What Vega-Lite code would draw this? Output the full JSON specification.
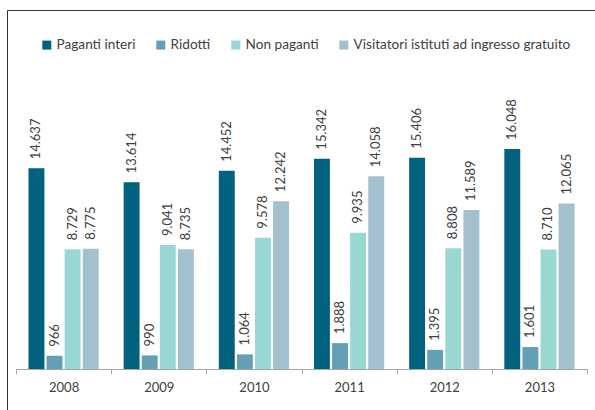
{
  "$schema": "https://vega.github.io/schema/vega-lite/v6.json",
  "width": 588,
  "height": 400,
  "padding": {"left": 7, "top": 10, "right": 0, "bottom": 0},
  "background": "white",
  "view": {"stroke": "#333333", "strokeWidth": 1, "strokeDash": [588, 988, 400, 4]},
  "config": {
    "locale": {"number": {"decimal": ",", "thousands": ".", "grouping": [3], "currency": ["€", ""]}},
    "font": "Lato"
  },
  "data": {
    "values": [
      {"anno": "2008", "serie": "Paganti interi", "valore": 14637},
      {"anno": "2008", "serie": "Ridotti", "valore": 966},
      {"anno": "2008", "serie": "Non paganti", "valore": 8729},
      {"anno": "2008", "serie": "Visitatori istituti ad ingresso gratuito", "valore": 8775},
      {"anno": "2009", "serie": "Paganti interi", "valore": 13614},
      {"anno": "2009", "serie": "Ridotti", "valore": 990},
      {"anno": "2009", "serie": "Non paganti", "valore": 9041},
      {"anno": "2009", "serie": "Visitatori istituti ad ingresso gratuito", "valore": 8735},
      {"anno": "2010", "serie": "Paganti interi", "valore": 14452},
      {"anno": "2010", "serie": "Ridotti", "valore": 1064},
      {"anno": "2010", "serie": "Non paganti", "valore": 9578},
      {"anno": "2010", "serie": "Visitatori istituti ad ingresso gratuito", "valore": 12242},
      {"anno": "2011", "serie": "Paganti interi", "valore": 15342},
      {"anno": "2011", "serie": "Ridotti", "valore": 1888},
      {"anno": "2011", "serie": "Non paganti", "valore": 9935},
      {"anno": "2011", "serie": "Visitatori istituti ad ingresso gratuito", "valore": 14058},
      {"anno": "2012", "serie": "Paganti interi", "valore": 15406},
      {"anno": "2012", "serie": "Ridotti", "valore": 1395},
      {"anno": "2012", "serie": "Non paganti", "valore": 8808},
      {"anno": "2012", "serie": "Visitatori istituti ad ingresso gratuito", "valore": 11589},
      {"anno": "2013", "serie": "Paganti interi", "valore": 16048},
      {"anno": "2013", "serie": "Ridotti", "valore": 1601},
      {"anno": "2013", "serie": "Non paganti", "valore": 8710},
      {"anno": "2013", "serie": "Visitatori istituti ad ingresso gratuito", "valore": 12065}
    ]
  },
  "encoding": {
    "x": {
      "field": "anno",
      "type": "nominal",
      "scale": {"range": [9, 580], "paddingInner": 0, "paddingOuter": 0},
      "axis": {
        "orient": "bottom",
        "offset": -41,
        "title": null,
        "grid": false,
        "domainColor": "#a6a6a6",
        "tickColor": "#a6a6a6",
        "tickSize": 5,
        "tickBand": "extent",
        "labelAngle": 0,
        "labelFontSize": 13,
        "labelColor": "#404040",
        "labelPadding": 7
      }
    },
    "xOffset": {
      "field": "serie",
      "type": "nominal",
      "sort": ["Paganti interi", "Ridotti", "Non paganti", "Visitatori istituti ad ingresso gratuito"],
      "scale": {"paddingInner": 0.12, "paddingOuter": 0.69}
    },
    "y": {
      "field": "valore",
      "type": "quantitative",
      "scale": {"domain": [0, 20000], "range": [359, 84.8], "nice": false},
      "axis": null
    }
  },
  "layer": [
    {
      "mark": {"type": "bar"},
      "encoding": {
        "color": {
          "field": "serie",
          "type": "nominal",
          "sort": ["Paganti interi", "Ridotti", "Non paganti", "Visitatori istituti ad ingresso gratuito"],
          "scale": {
            "domain": ["Paganti interi", "Ridotti", "Non paganti", "Visitatori istituti ad ingresso gratuito"],
            "range": ["#01617f", "#659fb5", "#99d7d3", "#a2c0ce"]
          },
          "legend": {
            "orient": "none",
            "legendX": 33,
            "legendY": 28,
            "direction": "horizontal",
            "title": null,
            "symbolType": "square",
            "symbolSize": 81,
            "symbolStrokeWidth": 0,
            "labelFontSize": 13.6,
            "labelLimit": 0,
            "labelColor": "#404040",
            "labelOffset": 3,
            "columnPadding": 18,
            "padding": 0
          }
        }
      }
    },
    {
      "mark": {"type": "text", "angle": 270, "align": "left", "baseline": "middle", "dx": 9, "fontSize": 13, "color": "#404040"},
      "encoding": {
        "text": {"field": "valore", "type": "quantitative", "format": ",d"}
      }
    }
  ]
}
